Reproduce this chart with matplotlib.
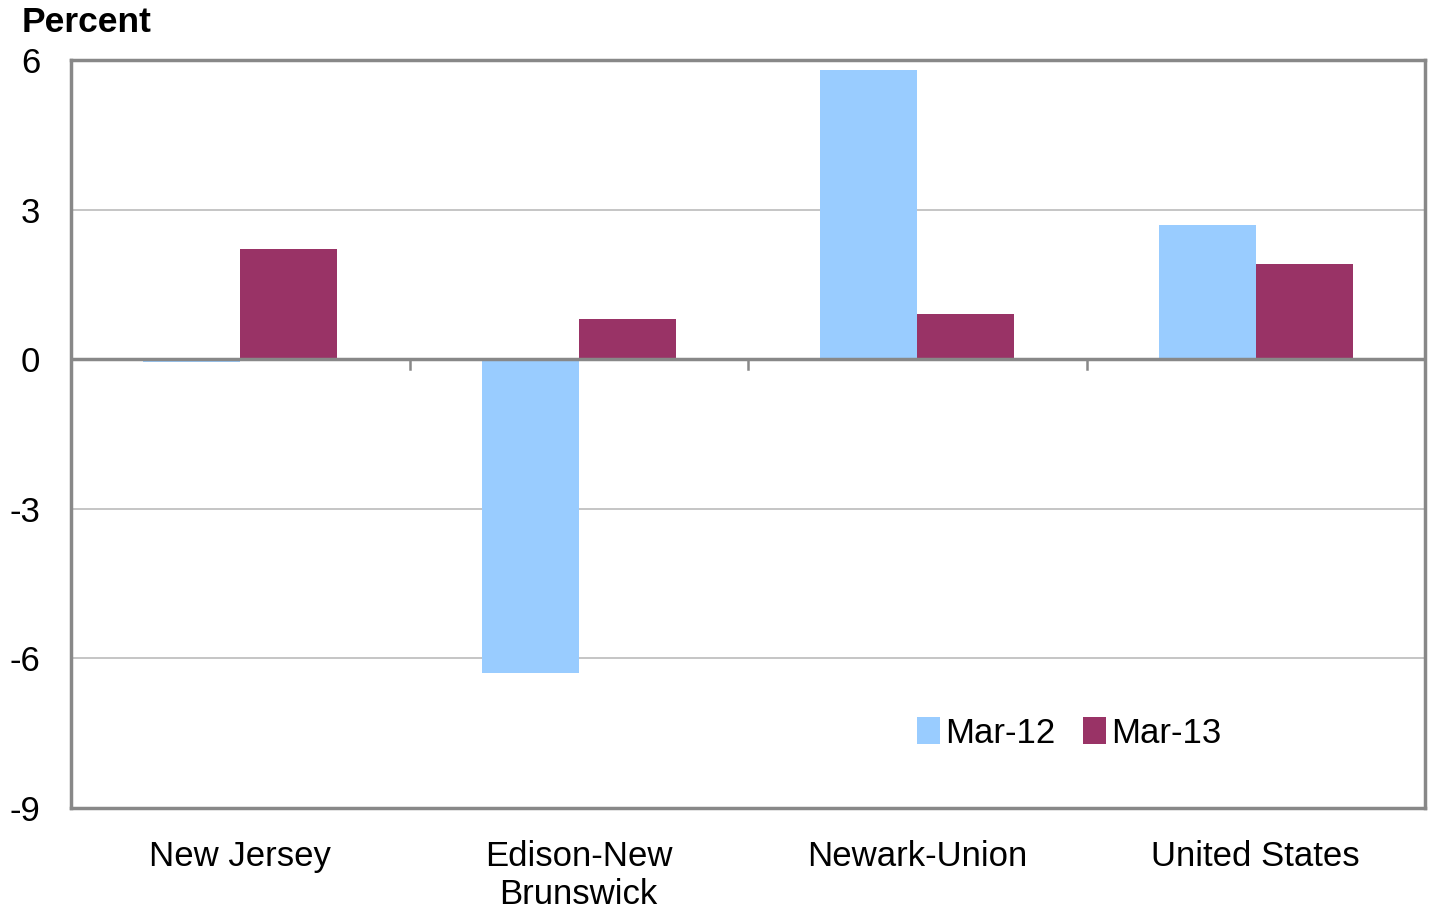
import numpy as np
import matplotlib.pyplot as plt

plt.rcParams['font.family'] = ['Liberation Sans', 'DejaVu Sans']

# categories and values (percent)
areas = ['New Jersey', 'Edison-New\nBrunswick', 'Newark-Union', 'United States']
mar12 = [-0.05, -6.3, 5.8, 2.7]
mar13 = [2.2, 0.8, 0.9, 1.9]
yticks = [-9, -6, -3, 0, 3, 6]

fig = plt.figure(figsize=(14.3, 9.11), dpi=100)
ax = fig.add_axes([71 / 1430, 1 - 808 / 911, 1354 / 1430, 748 / 911])

x = np.arange(len(areas))
w = 0.287
ax.bar(x - w / 2, mar12, w, color='#99CCFF', label='Mar-12', zorder=3)
ax.bar(x + w / 2, mar13, w, color='#993366', label='Mar-13', zorder=3)

ax.set_xlim(-0.5, len(areas) - 0.5)
ax.set_ylim(-9, 6)
ax.set_yticks(yticks)
ax.set_yticklabels([str(v) for v in yticks], fontsize=25)
ax.tick_params(axis='y', length=0, pad=22)

ax.set_xticks(x)
ax.set_xticklabels(areas, fontsize=25, linespacing=1.2)
ax.tick_params(axis='x', length=0, pad=23)

for v in yticks:
    if v not in (0, -9, 6):
        ax.axhline(v, color='#C0C0C0', lw=1.3, zorder=1)
ax.axhline(0, color='#888888', lw=2.5, zorder=4)
# category separators on the zero line
for b in x[:-1] + 0.5:
    ax.plot([b, b], [0, -0.2], color='#888888', lw=1.8, zorder=4)

for s in ax.spines.values():
    s.set_color('#888888')
    s.set_linewidth(2.5)

ax.legend(loc='center left', bbox_to_anchor=(0.602, 0.1), frameon=False,
          fontsize=25, ncol=2, handlelength=0.65, handleheight=0.8,
          handletextpad=0.15, columnspacing=0.8)

fig.text(22 / 1430, 1 - 22 / 911, 'Percent', fontsize=25.5, fontweight='bold',
         va='center', ha='left')

fig.savefig('out.png', dpi=100)
